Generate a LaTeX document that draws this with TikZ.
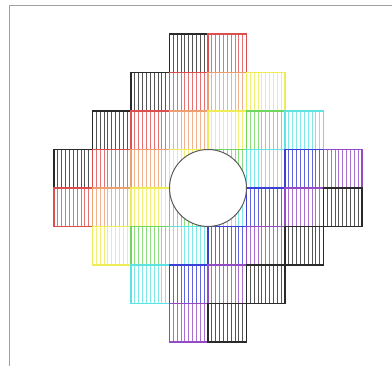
\documentclass[tikz,border=0pt]{standalone}
\definecolor{band0}{HTML}{2A2A2A}
\definecolor{band1}{HTML}{DD4F4F}
\definecolor{band2}{HTML}{EE9F70}
\definecolor{band3}{HTML}{F0EC55}
\definecolor{band4}{HTML}{6FD65E}
\definecolor{band5}{HTML}{5FE2E2}
\definecolor{band6}{HTML}{3A40D6}
\definecolor{band7}{HTML}{944CC4}
\definecolor{band8}{HTML}{2A2A2A}
\definecolor{framegray}{HTML}{A0A0A0}
\definecolor{rimgray}{HTML}{5A5A5A}
\usepackage{tikz}

\begin{document}
\begin{tikzpicture}[x=1pt, y=-1pt,
  cell/.style={line width=1.1pt},
  hatch/.style={line width=0.9pt},
  frame/.style={draw=framegray, line width=1.4pt},
  hole/.style={fill=white, draw=rimgray, line width=1pt},
]
\useasboundingbox (0,0) rectangle (392,366);
\draw[frame] (9.5,366) -- (9.5,5.5) -- (392,5.5);
% diamond of hatched cells, one colour per diagonal
\foreach \k in {0,...,8}{
  \foreach \r in {0,...,7}{
    \pgfmathtruncatemacro{\c}{\k+3-\r}
    \pgfmathtruncatemacro{\inside}{(\c>=0)&&(\c<=7)&&(abs(\c-3.5)+abs(\r-3.5)<=4)}
    \ifnum\inside=1
      \pgfmathsetmacro{\xa}{54+38.5*\c}
      \pgfmathsetmacro{\ya}{34+38.5*\r}
      \foreach \i in {1,...,9}
        \draw[hatch, draw=band\k!80!white] ({\xa+3.85*\i},\ya) -- ({\xa+3.85*\i},\ya+38.5);
      \draw[cell, band\k] (\xa,\ya) rectangle ++(38.5,38.5);
    \fi
  }
}
\draw[hole] (208,188) circle (38.5);
\end{tikzpicture}
\end{document}
